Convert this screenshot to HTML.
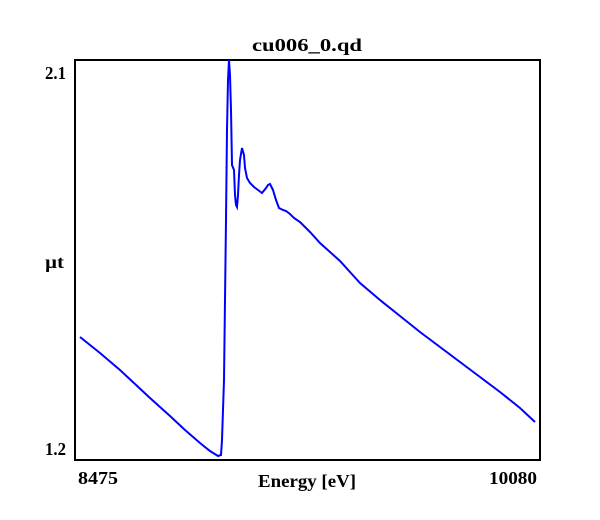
<!DOCTYPE html>
<html><head><style>
body{margin:0;background:#fff;}
svg{display:block;}
text{font-family:"Liberation Serif",serif;font-weight:bold;fill:#000;}
</style></head><body>
<svg width="600" height="520" viewBox="0 0 600 520">
<rect x="0" y="0" width="600" height="520" fill="#fff"/>
<text x="252" y="51" font-size="18" textLength="110" lengthAdjust="spacingAndGlyphs">cu006_0.qd</text>
<rect x="75" y="60" width="465" height="400" fill="none" stroke="#000" stroke-width="2"/>
<text x="45" y="79" font-size="18" textLength="21" lengthAdjust="spacingAndGlyphs">2.1</text>
<text x="45" y="268" font-size="18" textLength="19" lengthAdjust="spacingAndGlyphs">µt</text>
<text x="45" y="455" font-size="18" textLength="21" lengthAdjust="spacingAndGlyphs">1.2</text>
<text x="78" y="484" font-size="18" textLength="40" lengthAdjust="spacingAndGlyphs">8475</text>
<text x="258" y="487" font-size="18" textLength="98" lengthAdjust="spacingAndGlyphs">Energy [eV]</text>
<text x="489" y="484" font-size="18" textLength="48" lengthAdjust="spacingAndGlyphs">10080</text>
<polyline fill="none" stroke="#0000ff" stroke-width="2" points="80,337 100,353 120,370 150,398 170,416 185,430 200,443 210,451 218,456 221,455 222,440 224,380 225,300 226,220 227,130 228,80 229,60 230,75 231,110 232,165 234,170 235,195 236,205 237,207 238,195 239,175 240,160 242,148 244,155 245,168 247,178 250,183 254,187 258,190 262,193 266,188 268,185 270,184 273,190 276,200 279,208 283,210 286,211 290,214 294,218 300,222 310,232 320,243 330,252 340,261 350,272 360,283 380,300 400,316 420,332 440,347 460,362 480,377 500,392 520,408 535,422"/>
</svg>
</body></html>
